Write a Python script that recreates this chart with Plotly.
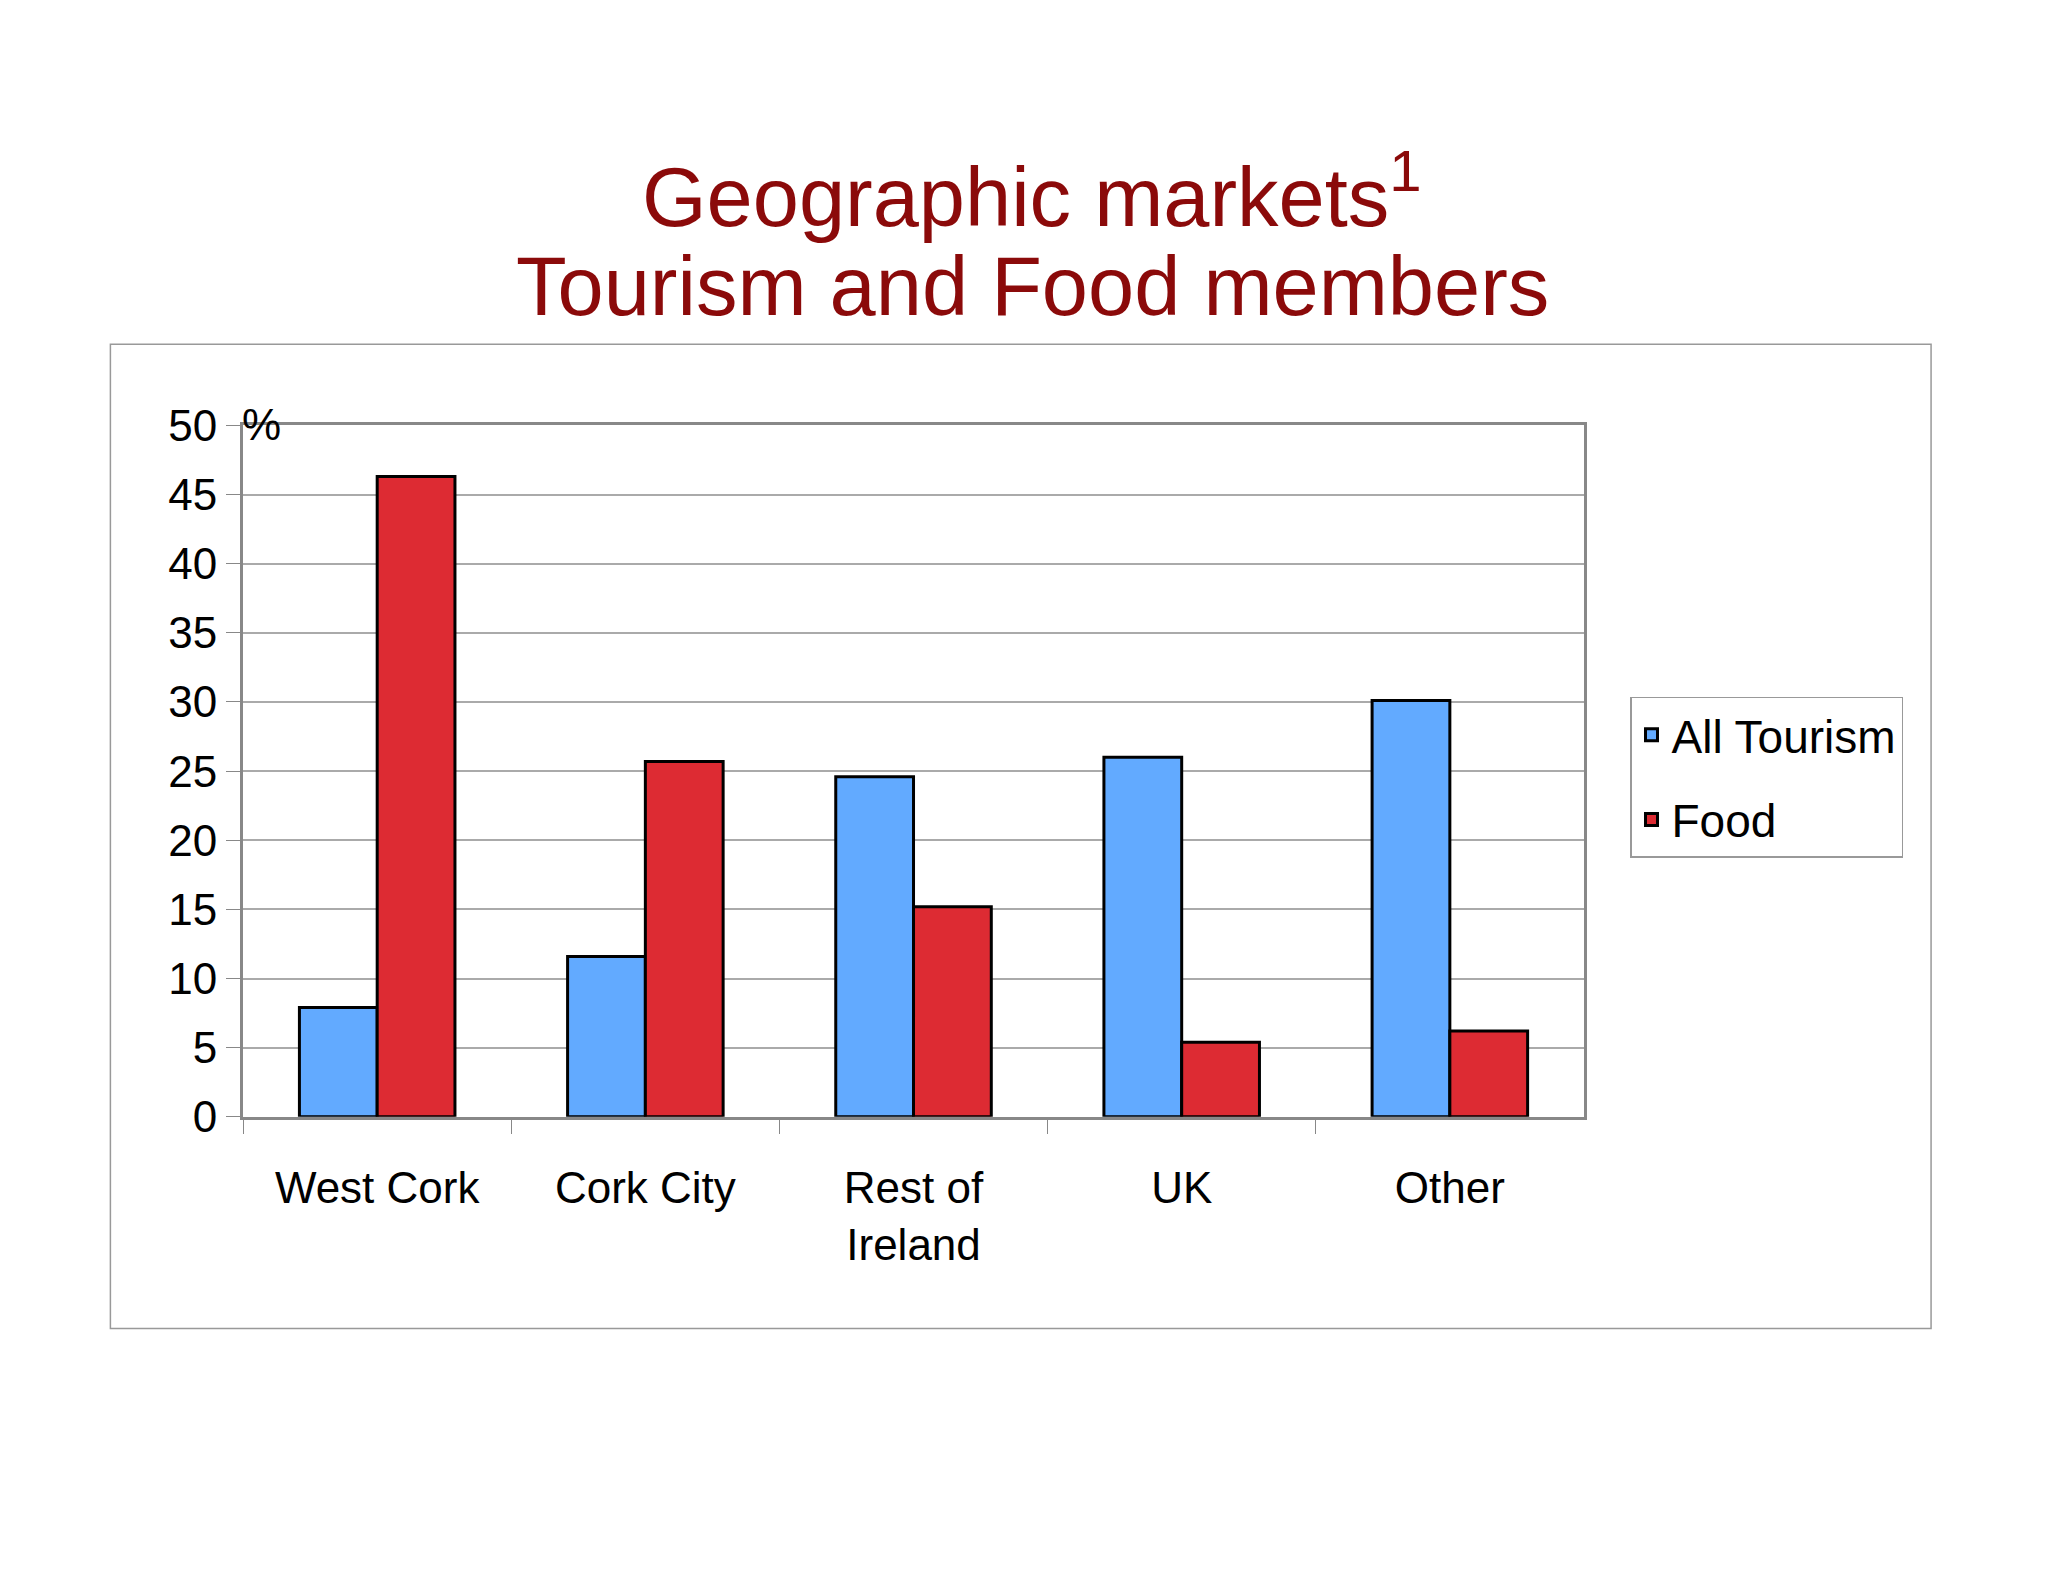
import plotly.graph_objects as go

categories = ["West Cork", "Cork City", "Rest of<br>Ireland", "UK", "Other"]
all_tourism = [7.9, 11.6, 24.6, 26.0, 30.1]
food = [46.3, 25.7, 15.2, 5.4, 6.2]
y_ticks = [0, 5, 10, 15, 20, 25, 30, 35, 40, 45, 50]

font = "Liberation Sans, Arial, sans-serif"

fig = go.Figure()
fig.add_trace(go.Bar(x=categories, y=all_tourism, name="All Tourism", legendgroup="a",
                     marker=dict(color="#62AAFF", line=dict(color="black", width=3))))
fig.add_trace(go.Bar(x=categories, y=food, name="Food", legendgroup="b",
                     marker=dict(color="#DD2B33", line=dict(color="black", width=3))))

fig.update_layout(
    width=2048, height=1582,
    margin=dict(l=0, r=0, t=0, b=0),
    paper_bgcolor="white", plot_bgcolor="white",
    font=dict(family=font, size=44, color="black"),
    barmode="group", bargap=0.42, bargroupgap=0,
    legend=dict(x=0.792, y=0.567, xanchor="left", yanchor="top",
                bordercolor="#999999", borderwidth=1.5,
                font=dict(size=46), tracegroupgap=22),
    xaxis=dict(domain=[0.1148, 0.7695], showline=True, linecolor="#888888", linewidth=3,
               mirror=True, ticks="outside", tickson="boundaries", ticklen=14,
               tickcolor="#888888", tickfont=dict(size=44), ticklabelstandoff=30),
    yaxis=dict(domain=[0.293, 0.744], range=[0, 50], tickvals=y_ticks,
               showline=True, linecolor="#888888", linewidth=3, mirror=True,
               ticks="outside", ticklen=14, tickcolor="#888888",
               gridcolor="#AAAAAA", gridwidth=1.5, tickfont=dict(size=44)),
    shapes=[dict(type="rect", xref="paper", yref="paper",
                 x0=0.050, x1=0.939, y0=0.155, y1=0.797,
                 line=dict(color="#999999", width=1.5))],
    annotations=[
        dict(text="Geographic markets<sup>1</sup>", xref="paper", yref="paper",
             x=0.5, y=1 - 125 * 1.306 / 1582, yanchor="middle", showarrow=False,
             font=dict(size=83, color="#8B0A0A")),
        dict(text="Tourism and Food members", xref="paper", yref="paper",
             x=0.5, y=1 - 200 * 1.306 / 1582, yanchor="middle", showarrow=False,
             font=dict(size=83, color="#8B0A0A")),
        dict(text="%", xref="paper", yref="paper", x=0.1135, y=0.762,
             showarrow=False, font=dict(size=44)),
    ],
)

fig.write_html("out.html")
